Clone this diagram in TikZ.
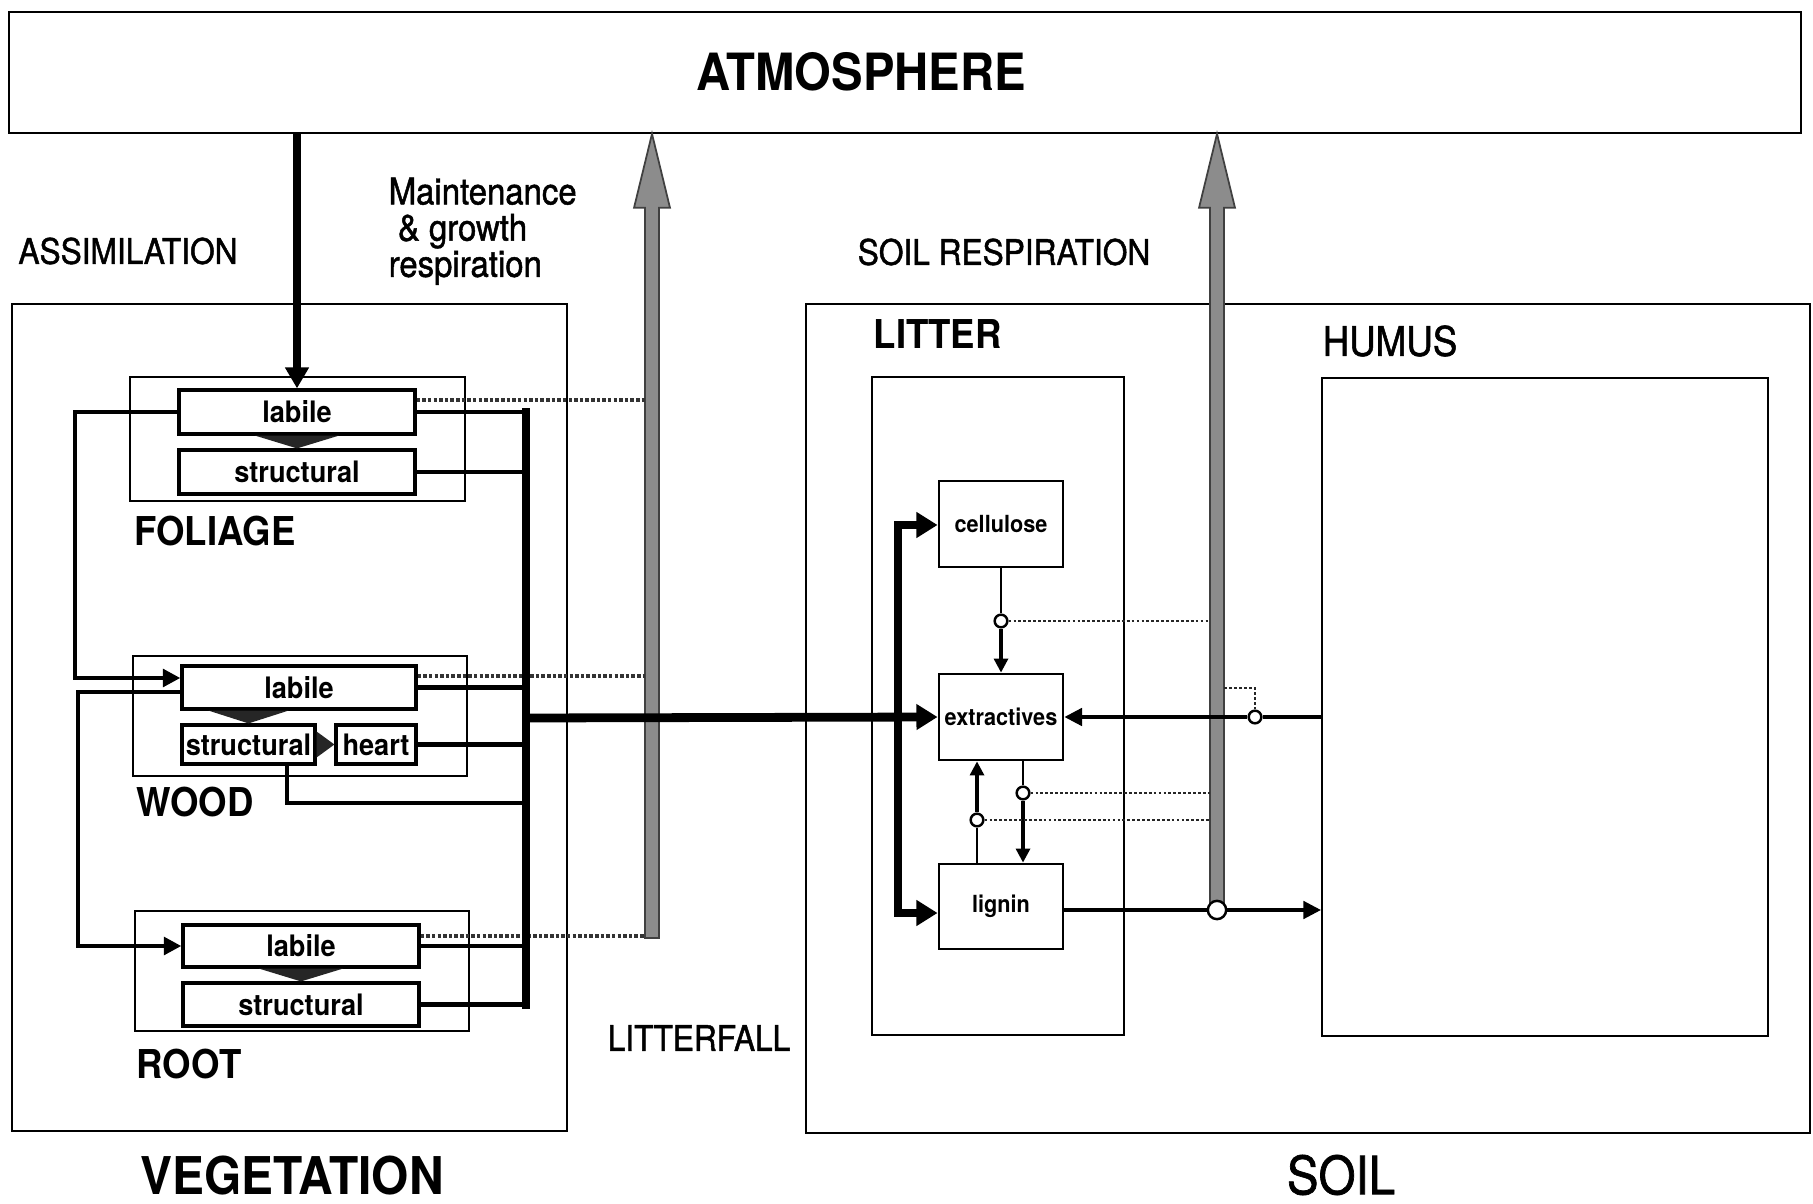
\documentclass[tikz,border=0pt]{standalone}
\usepackage{fontspec}
\setmainfont{TeX Gyre Heros}[FakeStretch=0.92]
\newfontfamily\medfont{TeX Gyre Heros}[FakeStretch=0.9, FakeBold=1.3]
\usetikzlibrary{arrows.meta,calc,fit}
\begin{document}
\begin{tikzpicture}[x=0.01cm,y=-0.01cm,
  frame/.style={draw, line width=0.6pt, inner sep=0pt},
  pool/.style={draw, line width=0.9pt, inner sep=0pt, font=\fontsize{8.4}{9}\selectfont\bfseries},
  lpool/.style={draw, line width=0.8pt, inner sep=0pt, minimum width=1.24cm, font=\fontsize{6.7}{8}\selectfont\bfseries},
  grp/.style={font=\fontsize{11.3}{13}\selectfont\bfseries, anchor=west, inner sep=0pt},
  lbl/.style={font=\medfont\fontsize{10}{11}\selectfont, inner sep=0pt},
  big/.style={font=\fontsize{14.6}{17}\selectfont\bfseries, inner sep=0pt},
  flow/.style={line width=1.2pt},
  flowa/.style={line width=1.2pt, -{Triangle[length=5pt,width=5pt]}},
  heavy/.style={line width=2.5pt},
  heavya/.style={line width=2.5pt, -{Triangle[length=6pt,width=7pt]}},
  thin/.style={line width=0.6pt},
  thina/.style={line width=0.9pt, -{Triangle[length=4pt,width=4pt]}},
  resp/.style={line width=1.4pt, black!80, dash pattern=on 1pt off 0.6pt},
  sresp/.style={line width=0.6pt, black!85, dash pattern=on 0.8pt off 0.6pt},
  greyarr/.style={fill=black!45, draw=black!75, line width=0.5pt},
  valve/.style={circle, draw, fill=white, line width=0.7pt, inner sep=0pt, minimum size=3.6pt},
  wedge/.style={fill=black!85},
]
\useasboundingbox (0,0) rectangle (1813,1204);

% ---------- atmosphere ----------
\node[frame, line width=0.5pt, fit={(9,12)(1801,133)}] (atm) {};
\node[big] (atmlbl) at (861,72) {ATMOSPHERE};

% ---------- main compartments ----------
\node[frame, fit={(12,304)(567,1131)}] (veg) {};
\node[frame, fit={(806,304)(1810,1133)}] (soil) {};
\node[font=\fontsize{14.8}{17}\selectfont\bfseries, inner sep=0pt] (veglbl) at (292,1176) {VEGETATION};
\node[font=\medfont\fontsize{15}{17}\selectfont, inner sep=0pt] (soillbl) at (1341,1175) {SOIL};

% ---------- vegetation pools ----------
\node[frame, fit={(130,377)(465,501)}] (fol) {};
\node[pool, minimum width=2.36cm, minimum height=0.44cm] (fl) at (297,412) {labile};
\node[pool, minimum width=2.36cm, minimum height=0.44cm] (fs) at (297,472) {structural};
\node[grp] (follbl) at (134,531) {FOLIAGE};

\node[frame, fit={(133,656)(467,776)}] (wood) {};
\node[pool, minimum width=2.34cm, minimum height=0.43cm] (wl) at (299,687.5) {labile};
\node[pool, minimum width=1.33cm, minimum height=0.39cm] (ws) at (248.5,744.5) {structural};
\node[pool, minimum width=0.80cm, minimum height=0.39cm] (wh) at (376,744.5) {heart};
\node[grp] (woodlbl) at (136,802) {WOOD};

\node[frame, fit={(135,911)(469,1031)}] (root) {};
\node[pool, minimum width=2.36cm, minimum height=0.42cm] (rl) at (301,946) {labile};
\node[pool, minimum width=2.36cm, minimum height=0.43cm] (rs) at (301,1004.5) {structural};
\node[grp] (rootlbl) at (136,1064) {ROOT};

% allocation wedges
\fill[wedge] ($(fl.south)+(-42,0)$) -- ($(fl.south)+(42,0)$) -- (fs.north) -- cycle;
\fill[wedge] ($(ws.north |- wl.south)+(-40,0)$) -- ($(ws.north |- wl.south)+(40,0)$) -- (ws.north) -- cycle;
\fill[wedge] ($(ws.east)+(0,-13)$) -- ($(ws.east)+(0,13)$) -- (wh.west) -- cycle;
\fill[wedge] ($(rl.south)+(-42,0)$) -- ($(rl.south)+(42,0)$) -- (rs.north) -- cycle;

% ---------- soil pools ----------
\node[frame, fit={(872,377)(1124,1035)}] (litter) {};
\node[frame, fit={(1322,378)(1768,1036)}] (humus) {};
\node[grp] (litlbl) at (873,334) {LITTER};
\node[font=\medfont\fontsize{11.6}{13}\selectfont, anchor=west, inner sep=0pt] (humlbl) at (1322,341) {HUMUS};
\node[lpool, minimum height=0.86cm] (cel) at (1001,524) {cellulose};
\node[lpool, minimum height=0.86cm] (ext) at (1001,717) {extractives};
\node[lpool, minimum height=0.85cm] (lig) at (1001,906.5) {lignin};

% ---------- flux labels ----------
\node[lbl] (assim) at (128,251) {ASSIMILATION};
\node[font=\medfont\fontsize{10.4}{10.3}\selectfont, inner sep=0pt, align=left, anchor=north west] (mgr) at (388,177)
  {Maintenance\\\hspace{0.25em}\& growth\\respiration};
\node[lbl] (soilresp) at (1004,252) {SOIL RESPIRATION};
\node[lbl] (litfall) at (699,1038) {LITTERFALL};

% ---------- respiration (grey) arrows ----------
\coordinate (g1b) at (652,938);
\coordinate (g1t) at (atm.south -| g1b);
\draw[greyarr] ($(g1b)+(-7,0)$) -- ($(g1t)+(-7,74)$) -- ($(g1t)+(-18,74)$) -- (g1t)
  -- ($(g1t)+(18,74)$) -- ($(g1t)+(7,74)$) -- ($(g1b)+(7,0)$) -- cycle;
\coordinate (g2b) at (1217,910);
\coordinate (g2t) at (atm.south -| g2b);
\draw[greyarr] ($(g2b)+(-7,0)$) -- ($(g2t)+(-7,74)$) -- ($(g2t)+(-18,74)$) -- (g2t)
  -- ($(g2t)+(18,74)$) -- ($(g2t)+(7,74)$) -- ($(g2b)+(7,0)$) -- cycle;

% respiration feeds (vegetation)
\coordinate (r1) at (645,400);
\coordinate (r2) at (645,676);
\coordinate (r3) at (645,936);
\draw[resp] (fl.east |- r1) -- (r1);
\draw[resp] (wl.east |- r2) -- (r2);
\draw[resp] (rl.east |- r3) -- (r3);

% ---------- assimilation ----------
\draw[line width=2.3pt, -{Triangle[length=6pt,width=6.5pt]}] (atm.south -| fl.north) -- (fl.north);

% ---------- vegetation transfers ----------
\coordinate (lc1) at (75,412);
\coordinate (lc2) at (75,678);
\draw[flowa] (fl.west) -- (lc1) -- (lc2) -- (wl.west |- lc2);
\coordinate (lc3) at (78,692);
\coordinate (lc4) at (78,946);
\draw[flowa] (wl.west |- lc3) -- (lc3) -- (lc4) -- (rl.west);

% litterfall bus
\coordinate (bt) at (526,412);
\coordinate (bb) at (526,1005);
\coordinate (bo) at (526,718);
\coordinate (wsb) at (287,803);
\draw[heavy, line cap=rect] (bt) -- (bb);
\draw[flow] (fl.east |- bt) -- (bt);
\draw[flow] (fs.east) -- (fs.east -| bt);
\draw[flow] (wl.east) -- (wl.east -| bt);
\draw[flow] (wh.east) -- (wh.east -| bt);
\draw[flow] (ws.south -| wsb) -- (wsb) -- (wsb -| bt);
\draw[flow] (rl.east) -- (rl.east -| bt);
\draw[flow] (rs.east) -- (rs.east -| bt);

% litter bus
\coordinate (lb1) at (898,525);
\coordinate (lb2) at (898,913);
\draw[heavy, {Triangle[length=6pt,width=7pt]}-{Triangle[length=6pt,width=7pt]}, line join=miter]
  (cel.west |- lb1) -- (lb1) -- (lb2) -- (lig.west |- lb2);
\draw[heavya] (bo) -- (ext.west);

% ---------- decomposition ----------
\node[valve] (v1) at (1001,621) {};
\draw[thin] (cel.south) -- (v1);
\draw[thina] (v1) -- (ext.north);
\draw[sresp] (v1.east) -- (v1 -| 1210,0);

\node[valve] (v2) at (1023,793) {};
\draw[thin] (ext.south -| v2) -- (v2);
\draw[thina] (v2) -- (lig.north -| v2);
\draw[sresp] (v2.east) -- (v2 -| 1210,0);

\node[valve] (v3) at (977,820) {};
\draw[thin] (lig.north -| v3) -- (v3);
\draw[thina] (v3) -- (ext.south -| v3);
\draw[sresp] (v3.east) -- (v3 -| 1210,0);

\node[valve] (v4) at (1255,717) {};
\coordinate (v4k) at (1255,688);
\draw[line width=0.9pt] (humus.west |- v4) -- (v4);
\draw[line width=0.9pt, -{Triangle[length=5pt,width=5pt]}] (v4) -- (ext.east);
\draw[sresp] (v4.north) -- (v4k) -- (v4k -| 1224,0);

\draw[line width=0.9pt] (lig.east |- g2b) -- (g2b);
\node[valve, minimum size=5.2pt] (v5) at (g2b) {};
\draw[line width=0.9pt, -{Triangle[length=5pt,width=5pt]}] (v5) -- (humus.west |- v5);

\end{tikzpicture}
\end{document}
